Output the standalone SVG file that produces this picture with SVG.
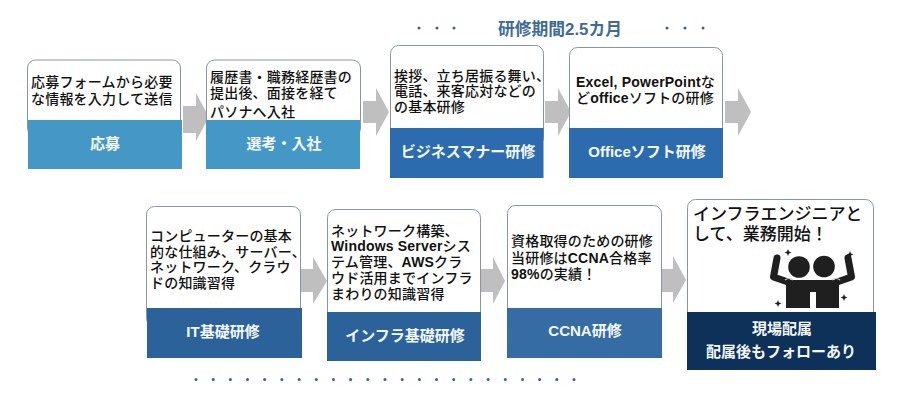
<svg xmlns="http://www.w3.org/2000/svg" width="900" height="405" viewBox="0 0 900 405">
<style>
text{font-family:"Liberation Sans","Noto Sans CJK JP",sans-serif;font-weight:500}
.b{fill:#fff;stroke:#8496a8;stroke-width:1}
.t{font-size:14px;fill:#111;letter-spacing:.2px}
.l{font-weight:700}
.h{font-size:15px;fill:#f4f8fb;text-anchor:middle;font-weight:700}
.c1{fill:#4597c5}.c2{fill:#2c6cae}.c3{fill:#2b6299}.c4{fill:#346ca3}.c5{fill:#0d3158}
.a{fill:#bfbfbf}
.d{fill:#3a6490}
</style>
<rect width="900" height="405" fill="#fff"/>
<g id="connectors">
<path class="a" d="M183 106H196V93L209 117L196 141V133H183Z"/>
<path class="a" d="M363 101H376V88L389 112L376 136V123H363Z"/>
<path class="a" d="M545 101H558V88L571 112L558 136V123H545Z"/>
<path class="a" d="M725 101H738V88L751 112L738 136V123H725Z"/>
<path class="a" d="M301 269H313V257L327 281L313 304V292H301Z"/>
<path class="a" d="M480 269H493V257L505 281L493 304V292H480Z"/>
<path class="a" d="M660 269H673V256L686 280L673 303V292H660Z"/>
</g>
<g id="period">
<text x="560" y="35" font-size="16.800" text-anchor="middle" fill="#3f6b96" style="font-weight:700">研修期間2.5カ月</text>
<g class="d"><circle cx="419" cy="28" r="1.5"/><circle cx="437" cy="28" r="1.5"/><circle cx="454" cy="28" r="1.5"/><circle cx="667" cy="28" r="1.5"/><circle cx="685" cy="28" r="1.5"/><circle cx="703" cy="28" r="1.5"/></g>
</g>
<g id="node1">
<rect class="b" x="27.500" y="60" width="153" height="76" rx="8"/><rect class="c1" x="28" y="120" width="154" height="49"/>
<text class="t"><tspan x="31" y="87">応募フォームから必要</tspan><tspan x="31" y="104">な情報を入力して送信</tspan></text>
<text class="h" x="105" y="148.500">応募</text>
</g>
<g id="node2">
<rect class="b" x="206.500" y="60" width="154" height="76" rx="8"/><rect class="c1" x="206" y="120" width="154" height="49"/>
<text class="t"><tspan x="210" y="82">履歴書・職務経歴書の</tspan><tspan x="210" y="98">提出後、面接を経て</tspan><tspan x="210" y="117">パソナへ入社</tspan></text>
<text class="h" x="284" y="148.500">選考・入社</text>
</g>
<g id="node3">
<rect class="b" x="390.500" y="45.500" width="153" height="100" rx="8"/><rect class="c2" x="390" y="128" width="153.500" height="50"/>
<text class="t"><tspan x="394" y="81">挨拶、立ち居振る舞い、</tspan><tspan x="394" y="96">電話、来客応対などの</tspan><tspan x="394" y="112">の基本研修</tspan></text>
<text class="h" x="468" y="157">ビジネスマナー研修</text>
</g>
<g id="node4">
<rect class="b" x="569.500" y="47.500" width="153" height="100" rx="8"/><rect class="c2" x="569" y="128" width="154" height="50"/>
<text class="t"><tspan x="576" y="87"><tspan class="l">Excel, PowerPoint</tspan>な</tspan><tspan x="576" y="103">ど<tspan class="l">office</tspan>ソフトの研修</tspan></text>
<text class="h" x="647" y="157">Officeソフト研修</text>
</g>
<g id="node5">
<rect class="b" x="146.500" y="206.500" width="154" height="120" rx="8"/><rect class="c3" x="147" y="308" width="155" height="50"/>
<text class="t"><tspan x="150" y="241">コンピューターの基本</tspan><tspan x="150" y="257">的な仕組み、サーバー、</tspan><tspan x="150" y="272">ネットワーク、クラウ</tspan><tspan x="150" y="288">ドの知識習得</tspan></text>
<text class="h" x="223" y="337">IT基礎研修</text>
</g>
<g id="node6">
<rect class="b" x="327.500" y="209.500" width="153" height="120" rx="8"/><rect class="c3" x="327" y="312" width="154" height="49"/>
<text class="t"><tspan x="331" y="236">ネットワーク構築、</tspan><tspan x="331" y="251"><tspan class="l">Windows Server</tspan>シス</tspan><tspan x="331" y="267">テム管理、<tspan class="l">AWS</tspan>クラ</tspan><tspan x="331" y="283">ウド活用までインフラ</tspan><tspan x="331" y="299">まわりの知識習得</tspan></text>
<text class="h" x="405" y="341">インフラ基礎研修</text>
</g>
<g id="node7">
<rect class="b" x="507.500" y="205.500" width="154" height="120" rx="8"/><rect class="c4" x="507" y="308" width="155" height="50"/>
<text class="t"><tspan x="511" y="246">資格取得のための研修</tspan><tspan x="511" y="263">当研修は<tspan class="l">CCNA</tspan>合格率</tspan><tspan x="511" y="279"><tspan class="l">98%</tspan>の実績！</tspan></text>
<text class="h" x="585" y="336">CCNA研修</text>
</g>
<g id="node8">
<rect class="b" x="687.500" y="199.500" width="186" height="130" rx="8"/><rect class="c5" x="687" y="312" width="189" height="58"/>
<text font-size="17" fill="#111"><tspan x="693" y="220">インフラエンジニアと</tspan><tspan x="693" y="240">して、業務開始！</tspan></text>
<g fill="#1f1f1f">
<circle cx="799" cy="267" r="10.800"/><circle cx="824" cy="266.500" r="10.800"/>
<path d="M786 280H839V308H816V292H810V308H786Z"/>
<path d="M777 258L773.500 277L788 282M848 258L851.500 277L837 282" fill="none" stroke="#1f1f1f" stroke-width="7" stroke-linecap="round" stroke-linejoin="round"/>
<path d="M785 280q4-3 8 0M832 280q4-3 8 0" fill="none" stroke="#c9c9c9" stroke-width="1.200"/>
<path d="M788 249l1 2.500 2.500 1-2.500 1-1 2.500-1-2.500-2.500-1 2.500-1ZM850 251l1 2.500 2.500 1-2.500 1-1 2.500-1-2.500-2.500-1 2.500-1ZM778 300l1 2.500 2.500 1-2.500 1-1 2.500-1-2.500-2.500-1 2.500-1ZM844 294l1 2.500 2.500 1-2.500 1-1 2.500-1-2.500-2.500-1 2.500-1Z"/>
</g>
<text class="h" x="782" y="334">現場配属</text><text class="h" x="781" y="357">配属後もフォローあり</text>
</g>
<g id="dots" class="d">
<circle cx="196" cy="379.500" r="1.500"/><circle cx="213.200" cy="379.500" r="1.500"/><circle cx="230.400" cy="379.500" r="1.500"/><circle cx="247.500" cy="379.500" r="1.500"/><circle cx="264.700" cy="379.500" r="1.500"/><circle cx="281.900" cy="379.500" r="1.500"/><circle cx="299.100" cy="379.500" r="1.500"/><circle cx="316.300" cy="379.500" r="1.500"/><circle cx="333.500" cy="379.500" r="1.500"/><circle cx="350.600" cy="379.500" r="1.500"/><circle cx="367.800" cy="379.500" r="1.500"/><circle cx="385" cy="379.500" r="1.500"/><circle cx="402.200" cy="379.500" r="1.500"/><circle cx="419.400" cy="379.500" r="1.500"/><circle cx="436.500" cy="379.500" r="1.500"/><circle cx="453.700" cy="379.500" r="1.500"/><circle cx="470.900" cy="379.500" r="1.500"/><circle cx="488.100" cy="379.500" r="1.500"/><circle cx="505.300" cy="379.500" r="1.500"/><circle cx="522.500" cy="379.500" r="1.500"/><circle cx="539.600" cy="379.500" r="1.500"/><circle cx="556.800" cy="379.500" r="1.500"/><circle cx="574" cy="379.500" r="1.500"/>
</g>
</svg>
